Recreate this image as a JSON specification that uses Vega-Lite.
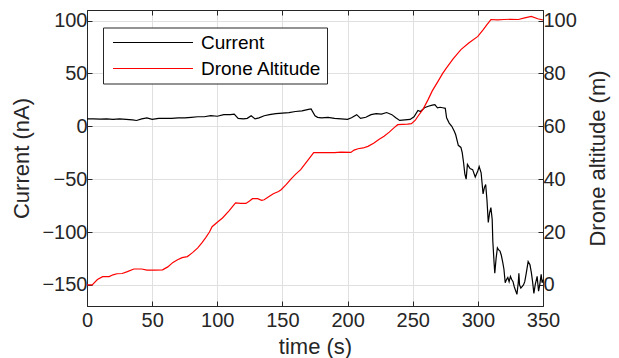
{
  "$schema": "https://vega.github.io/schema/vega-lite/v6.json",
  "width": 456,
  "height": 296,
  "autosize": {"type": "none"},
  "padding": {"left": 87, "top": 10, "right": 76, "bottom": 52},
  "config": {
    "font": "Liberation Sans",
    "view": {"stroke": "#262626", "strokeWidth": 1},
    "axis": {
      "labelFont": "Liberation Sans",
      "titleFont": "Liberation Sans",
      "labelFontSize": 20,
      "titleFontSize": 22,
      "titleFontWeight": "normal",
      "labelColor": "#262626",
      "titleColor": "#262626",
      "domainColor": "#262626",
      "tickColor": "#262626",
      "gridColor": "#e0e0e0",
      "gridWidth": 1,
      "labelFlush": false,
      "labelOverlap": false
    }
  },
  "layer": [
    {
      "data": {"values": [
        {"s":"Current","t":0,"v":7},{"s":"Current","t":5,"v":7},{"s":"Current","t":10,"v":6.8},{"s":"Current","t":15,"v":7},{"s":"Current","t":20,"v":6.5},{"s":"Current","t":25,"v":7},{"s":"Current","t":30,"v":6.5},{"s":"Current","t":35,"v":6},{"s":"Current","t":38,"v":5.5},{"s":"Current","t":42,"v":7},{"s":"Current","t":46,"v":8},{"s":"Current","t":50,"v":6.5},{"s":"Current","t":55,"v":7.5},{"s":"Current","t":60,"v":7.5},{"s":"Current","t":65,"v":7.5},{"s":"Current","t":70,"v":8},{"s":"Current","t":75,"v":8},{"s":"Current","t":80,"v":8.5},{"s":"Current","t":85,"v":9},{"s":"Current","t":90,"v":9},{"s":"Current","t":95,"v":10},{"s":"Current","t":100,"v":9.5},{"s":"Current","t":105,"v":11},{"s":"Current","t":110,"v":11},{"s":"Current","t":113,"v":11.5},{"s":"Current","t":116,"v":7.5},{"s":"Current","t":120,"v":7},{"s":"Current","t":123,"v":7.5},{"s":"Current","t":126,"v":10},{"s":"Current","t":129,"v":7},{"s":"Current","t":132,"v":8},{"s":"Current","t":136,"v":10},{"s":"Current","t":140,"v":11},{"s":"Current","t":145,"v":12},{"s":"Current","t":150,"v":12.5},{"s":"Current","t":155,"v":13},{"s":"Current","t":160,"v":14},{"s":"Current","t":165,"v":14.5},{"s":"Current","t":170,"v":16},{"s":"Current","t":172,"v":16.5},{"s":"Current","t":175,"v":10},{"s":"Current","t":177,"v":8.5},{"s":"Current","t":180,"v":8},{"s":"Current","t":185,"v":8.5},{"s":"Current","t":190,"v":7.5},{"s":"Current","t":195,"v":7},{"s":"Current","t":200,"v":6.5},{"s":"Current","t":203,"v":8},{"s":"Current","t":207,"v":11},{"s":"Current","t":210,"v":7.5},{"s":"Current","t":214,"v":8.5},{"s":"Current","t":218,"v":11},{"s":"Current","t":222,"v":12},{"s":"Current","t":226,"v":11.5},{"s":"Current","t":230,"v":13},{"s":"Current","t":234,"v":11},{"s":"Current","t":237,"v":8},{"s":"Current","t":240,"v":5.5},{"s":"Current","t":244,"v":6},{"s":"Current","t":248,"v":6.5},{"s":"Current","t":251,"v":9},{"s":"Current","t":254,"v":15},{"s":"Current","t":256,"v":14},{"s":"Current","t":259,"v":17.5},{"s":"Current","t":262,"v":19},{"s":"Current","t":265,"v":20},{"s":"Current","t":267,"v":20.5},{"s":"Current","t":269,"v":17.5},{"s":"Current","t":271,"v":18},{"s":"Current","t":273,"v":17.5},{"s":"Current","t":275,"v":17},{"s":"Current","t":276,"v":8},{"s":"Current","t":278,"v":3},{"s":"Current","t":280,"v":0},{"s":"Current","t":282,"v":-5},{"s":"Current","t":283,"v":-8},{"s":"Current","t":285,"v":-18},{"s":"Current","t":287,"v":-20},{"s":"Current","t":288,"v":-25},{"s":"Current","t":289,"v":-34},{"s":"Current","t":290,"v":-45},{"s":"Current","t":291,"v":-50},{"s":"Current","t":292,"v":-36},{"s":"Current","t":294,"v":-40},{"s":"Current","t":296,"v":-41},{"s":"Current","t":298,"v":-48},{"s":"Current","t":300,"v":-42},{"s":"Current","t":301,"v":-38},{"s":"Current","t":302.5,"v":-44},{"s":"Current","t":304,"v":-64},{"s":"Current","t":305,"v":-58},{"s":"Current","t":306,"v":-55},{"s":"Current","t":307,"v":-70},{"s":"Current","t":308,"v":-91},{"s":"Current","t":309,"v":-82},{"s":"Current","t":310,"v":-77},{"s":"Current","t":311,"v":-88},{"s":"Current","t":311.5,"v":-109},{"s":"Current","t":312.5,"v":-130},{"s":"Current","t":313,"v":-139},{"s":"Current","t":314,"v":-125},{"s":"Current","t":315,"v":-115},{"s":"Current","t":316,"v":-117},{"s":"Current","t":317,"v":-118},{"s":"Current","t":318,"v":-122},{"s":"Current","t":319,"v":-128},{"s":"Current","t":320,"v":-135},{"s":"Current","t":321,"v":-148},{"s":"Current","t":322,"v":-145},{"s":"Current","t":323,"v":-143},{"s":"Current","t":324,"v":-147},{"s":"Current","t":325,"v":-142},{"s":"Current","t":326,"v":-145},{"s":"Current","t":327,"v":-147},{"s":"Current","t":328,"v":-152},{"s":"Current","t":330,"v":-159},{"s":"Current","t":331,"v":-148},{"s":"Current","t":331.5,"v":-139},{"s":"Current","t":332,"v":-150},{"s":"Current","t":333,"v":-153},{"s":"Current","t":335,"v":-150},{"s":"Current","t":336,"v":-147},{"s":"Current","t":337,"v":-140},{"s":"Current","t":338.6,"v":-128},{"s":"Current","t":340,"v":-131},{"s":"Current","t":341,"v":-138},{"s":"Current","t":342,"v":-147},{"s":"Current","t":343,"v":-158},{"s":"Current","t":344,"v":-150},{"s":"Current","t":345.5,"v":-142},{"s":"Current","t":346.6,"v":-156},{"s":"Current","t":347.5,"v":-150},{"s":"Current","t":348.6,"v":-140},{"s":"Current","t":349.3,"v":-148},{"s":"Current","t":350,"v":-145}
      ]},
      "mark": {"type": "line", "strokeWidth": 1.2},
      "encoding": {
        "x": {"field": "t", "type": "quantitative", "scale": {"domain": [0, 350], "nice": false},
              "axis": {"orient": "bottom", "title": "time (s)", "values": [0,50,100,150,200,250,300,350], "grid": true, "tickSize": -5, "labelPadding": 9, "titlePadding": 6}},
        "y": {"field": "v", "type": "quantitative", "scale": {"domain": [-170, 110], "nice": false, "zero": false},
              "axis": {"orient": "left", "title": "Current (nA)", "values": [-150,-100,-50,0,50,100], "grid": true, "tickSize": -5, "labelPadding": 5, "titlePadding": 8}},
        "color": {"field": "s", "type": "nominal",
                  "scale": {"domain": ["Current", "Drone Altitude"], "range": ["#000000", "#ff0000"]},
                  "legend": {"title": null, "orient": "none", "legendX": 16, "legendY": 17.5,
                             "symbolType": "stroke", "symbolSize": 6400, "symbolStrokeWidth": 1.2,
                             "clipHeight": 20, "rowPadding": 6, "padding": 5, "symbolOffset": 4,
                             "labelFontSize": 19, "labelFont": "Liberation Sans", "labelColor": "#000000", "labelOffset": 7,
                             "strokeColor": "#262626", "fillColor": "#ffffff", "labelLimit": 300}}
      }
    },
    {
      "data": {"values": [
        {"s":"Drone Altitude","t":0,"a":0},{"s":"Drone Altitude","t":4,"a":0},{"s":"Drone Altitude","t":8,"a":2},{"s":"Drone Altitude","t":12,"a":3.1},{"s":"Drone Altitude","t":17,"a":3.1},{"s":"Drone Altitude","t":20,"a":3.8},{"s":"Drone Altitude","t":23,"a":4.2},{"s":"Drone Altitude","t":27,"a":4.3},{"s":"Drone Altitude","t":31,"a":5},{"s":"Drone Altitude","t":36,"a":6},{"s":"Drone Altitude","t":42,"a":6},{"s":"Drone Altitude","t":46,"a":5.6},{"s":"Drone Altitude","t":52,"a":5.6},{"s":"Drone Altitude","t":58,"a":5.7},{"s":"Drone Altitude","t":62,"a":6.8},{"s":"Drone Altitude","t":66,"a":8.5},{"s":"Drone Altitude","t":69.5,"a":9.5},{"s":"Drone Altitude","t":73,"a":10.3},{"s":"Drone Altitude","t":77,"a":10.7},{"s":"Drone Altitude","t":81,"a":12.2},{"s":"Drone Altitude","t":85,"a":14},{"s":"Drone Altitude","t":88,"a":15.8},{"s":"Drone Altitude","t":91,"a":17.8},{"s":"Drone Altitude","t":94,"a":20},{"s":"Drone Altitude","t":96,"a":22},{"s":"Drone Altitude","t":100,"a":23.7},{"s":"Drone Altitude","t":104,"a":25.3},{"s":"Drone Altitude","t":109,"a":28},{"s":"Drone Altitude","t":114,"a":31},{"s":"Drone Altitude","t":118,"a":30.8},{"s":"Drone Altitude","t":122,"a":30.8},{"s":"Drone Altitude","t":125,"a":31.8},{"s":"Drone Altitude","t":127,"a":32.6},{"s":"Drone Altitude","t":131,"a":32.6},{"s":"Drone Altitude","t":134,"a":32},{"s":"Drone Altitude","t":136,"a":32.2},{"s":"Drone Altitude","t":140,"a":33.5},{"s":"Drone Altitude","t":143,"a":34.5},{"s":"Drone Altitude","t":147,"a":35.3},{"s":"Drone Altitude","t":149,"a":36},{"s":"Drone Altitude","t":153,"a":38},{"s":"Drone Altitude","t":156.5,"a":40},{"s":"Drone Altitude","t":160,"a":41.8},{"s":"Drone Altitude","t":164,"a":43.6},{"s":"Drone Altitude","t":169,"a":46.8},{"s":"Drone Altitude","t":174,"a":50},{"s":"Drone Altitude","t":180,"a":50},{"s":"Drone Altitude","t":190,"a":50},{"s":"Drone Altitude","t":195,"a":50.2},{"s":"Drone Altitude","t":202.5,"a":50.1},{"s":"Drone Altitude","t":205,"a":51},{"s":"Drone Altitude","t":208,"a":51.5},{"s":"Drone Altitude","t":212,"a":51.8},{"s":"Drone Altitude","t":215.6,"a":52.4},{"s":"Drone Altitude","t":220,"a":53.6},{"s":"Drone Altitude","t":224,"a":55},{"s":"Drone Altitude","t":228,"a":56.2},{"s":"Drone Altitude","t":232,"a":57.8},{"s":"Drone Altitude","t":236,"a":59.6},{"s":"Drone Altitude","t":238.5,"a":60.6},{"s":"Drone Altitude","t":242,"a":60.7},{"s":"Drone Altitude","t":246,"a":60.8},{"s":"Drone Altitude","t":249,"a":61},{"s":"Drone Altitude","t":252,"a":62.3},{"s":"Drone Altitude","t":254,"a":63.8},{"s":"Drone Altitude","t":258,"a":66.5},{"s":"Drone Altitude","t":261.7,"a":70},{"s":"Drone Altitude","t":265,"a":73.4},{"s":"Drone Altitude","t":269.4,"a":77},{"s":"Drone Altitude","t":273,"a":80},{"s":"Drone Altitude","t":275.8,"a":82},{"s":"Drone Altitude","t":281,"a":85.5},{"s":"Drone Altitude","t":287,"a":89},{"s":"Drone Altitude","t":293,"a":91.5},{"s":"Drone Altitude","t":300,"a":94},{"s":"Drone Altitude","t":304,"a":96.5},{"s":"Drone Altitude","t":307,"a":98.5},{"s":"Drone Altitude","t":310,"a":100.4},{"s":"Drone Altitude","t":315,"a":100.3},{"s":"Drone Altitude","t":320,"a":100.4},{"s":"Drone Altitude","t":325,"a":100.5},{"s":"Drone Altitude","t":331,"a":100.4},{"s":"Drone Altitude","t":336,"a":101},{"s":"Drone Altitude","t":341,"a":101.6},{"s":"Drone Altitude","t":346,"a":100.7},{"s":"Drone Altitude","t":350,"a":100.2}
      ]},
      "mark": {"type": "line", "strokeWidth": 1.2},
      "encoding": {
        "x": {"field": "t", "type": "quantitative", "scale": {"domain": [0, 350], "nice": false},
              "axis": {"orient": "top", "title": null, "labels": false, "values": [0,50,100,150,200,250,300,350], "grid": false, "tickSize": -5}},
        "y": {"field": "a", "type": "quantitative", "scale": {"domain": [-8, 104], "nice": false, "zero": false},
              "axis": {"orient": "right", "title": "Drone altitude (m)", "titleAngle": 270, "values": [0,20,40,60,80,100], "grid": false, "tickSize": -5, "labelPadding": 5, "titlePadding": 33}},
        "color": {"field": "s", "type": "nominal"}
      }
    }
  ],
  "resolve": {"scale": {"y": "independent"}, "axis": {"x": "independent"}}
}
